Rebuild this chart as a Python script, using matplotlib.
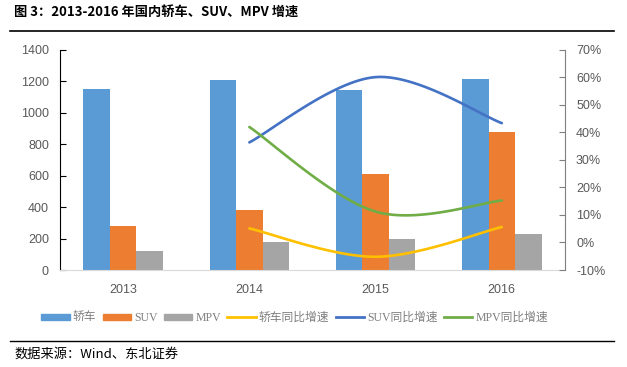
import numpy as np
import matplotlib
matplotlib.use('Agg')
import matplotlib.pyplot as plt
from matplotlib.patches import Patch
from matplotlib.lines import Line2D

plt.rcParams['font.family'] = ['Liberation Serif', 'Noto Sans CJK SC', 'DejaVu Sans']

# data
years = ['2013', '2014', '2015', '2016']
sedan = [1149, 1208, 1143, 1211]
suv = [279, 381, 610, 876]
mpv = [121, 178, 197, 229]
# yoy growth (%), from 2014
growth_years = [1, 2, 3]
sedan_yoy = [5.1, -5.2, 5.6]
suv_yoy = [36.3, 60.0, 43.3]
mpv_yoy = [41.9, 11.2, 15.2]

c_blue, c_orange, c_gray = '#5B9BD5', '#ED7D31', '#A5A5A5'
c_yellow, c_dblue, c_green = '#FFC000', '#4472C4', '#70AD47'
tick_col = '#595959'


def smooth(xs, ys, n=60):
    # Catmull-Rom through the points, like Excel's smoothed line
    xs = np.asarray(xs, float)
    ys = np.asarray(ys, float)
    px = np.concatenate([[xs[0]], xs, [xs[-1]]])
    py = np.concatenate([[ys[0]], ys, [ys[-1]]])
    outx, outy = [], []
    for i in range(1, len(px) - 2):
        t = np.linspace(0, 1, n)
        for p, out in ((px, outx), (py, outy)):
            p0, p1, p2, p3 = p[i - 1], p[i], p[i + 1], p[i + 2]
            out.extend(0.5 * ((2 * p1) + (-p0 + p2) * t
                              + (2 * p0 - 5 * p1 + 4 * p2 - p3) * t ** 2
                              + (-p0 + 3 * p1 - 3 * p2 + p3) * t ** 3))
    return outx, outy


fig = plt.figure(figsize=(6.27, 3.67), dpi=100)
ax = fig.add_axes([0.0957, 0.2643, 0.8053, 0.6007])
ax2 = ax.twinx()

x = np.arange(len(years))
w = 0.21
ax.bar(x - w, sedan, w, color=c_blue)
ax.bar(x, suv, w, color=c_orange)
ax.bar(x + w, mpv, w, color=c_gray)
ax.set_xlim(-0.5, 3.5)
ax.set_ylim(0, 1400)
ax.set_yticks(range(0, 1401, 200))
ax.set_xticks(x)
ax.set_xticklabels(years)

for ys, col in ((sedan_yoy, c_yellow), (suv_yoy, c_dblue), (mpv_yoy, c_green)):
    sx, sy = smooth(growth_years, ys)
    ax2.plot(sx, sy, color=col, lw=1.9, solid_capstyle='round')
ax2.set_ylim(-10, 70)
ax2.set_yticks(range(-10, 71, 10))
ax2.set_yticklabels([f'{v}%' for v in range(-10, 71, 10)])

for a in (ax, ax2):
    a.spines['top'].set_visible(False)
    a.tick_params(labelsize=9, labelcolor=tick_col, direction='in', length=4)
    for lab in a.get_yticklabels() + a.get_xticklabels():
        lab.set_family(['Liberation Sans', 'DejaVu Sans'])
ax.spines['right'].set_visible(False)
ax.spines['left'].set_color('black')
ax.spines['bottom'].set_color('#D9D9D9')
ax2.spines['left'].set_visible(False)
ax2.spines['bottom'].set_visible(False)
ax2.spines['right'].set_color('#7F7F7F')
ax2.tick_params(axis='y', colors='#7F7F7F', labelcolor=tick_col, direction='in', pad=8)
ax.tick_params(axis='x', length=0, pad=10)
ax.tick_params(axis='y', colors='black', labelcolor=tick_col, pad=8)

handles = [Patch(color=c_blue), Patch(color=c_orange), Patch(color=c_gray),
           Line2D([], [], color=c_yellow, lw=2), Line2D([], [], color=c_dblue, lw=2),
           Line2D([], [], color=c_green, lw=2)]
labels = ['轿车', 'SUV', 'MPV', '轿车同比增速', 'SUV同比增速', 'MPV同比增速']
leg = fig.legend(handles, labels, ncol=6, loc='center', bbox_to_anchor=(0.47, 1 - 318 / 367),
                 frameon=False, fontsize=8.5, handlelength=2.4, handleheight=0.45,
                 handletextpad=0.25, columnspacing=0.55)
for t in leg.get_texts():
    t.set_color('#7F7F7F')

# title, rules, source
fig.text(14 / 627, 1 - 13 / 367, '图 3：2013-2016 年国内轿车、SUV、MPV 增速', fontsize=9.5,
         fontweight='bold', va='center', ha='left',
         family=['Noto Sans CJK SC', 'DejaVu Sans'])
fig.add_artist(Line2D([10 / 627, 614 / 627], [1 - 31 / 367] * 2, color='black', lw=1.2))
fig.add_artist(Line2D([10 / 627, 614 / 627], [1 - 341 / 367] * 2, color='black', lw=1.0))
fig.text(14 / 627, 1 - 354 / 367, '数据来源：Wind、东北证券', fontsize=9.5, va='center', ha='left',
         family=['Noto Sans CJK SC', 'DejaVu Sans'])

fig.savefig('out.png', dpi=100)
